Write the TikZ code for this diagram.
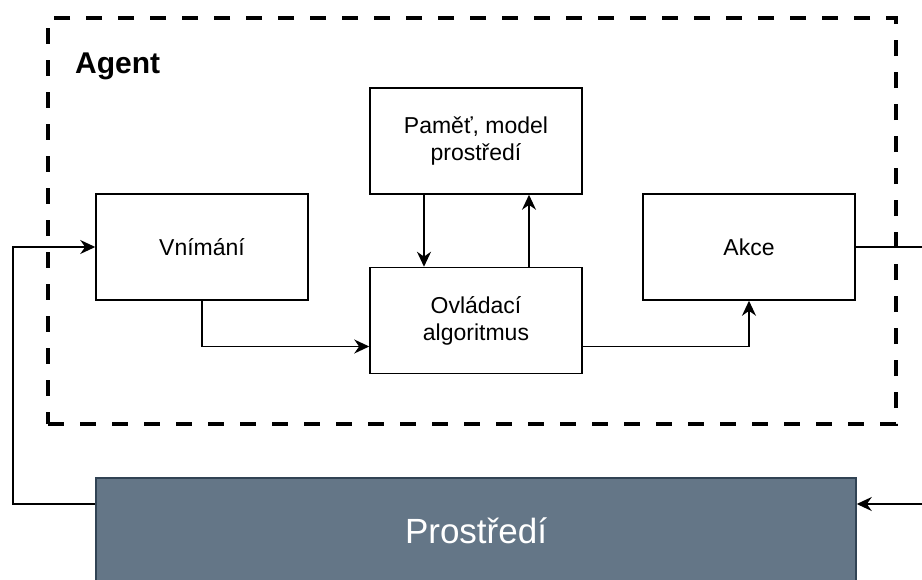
\documentclass[tikz,border=0pt]{standalone}
\usepackage{fontspec}
\setmainfont{Liberation Sans}
\usepackage{tikz}
\usetikzlibrary{arrows.meta,positioning}

\definecolor{envfill}{HTML}{647687}
\definecolor{envdraw}{HTML}{314354}

\tikzset{
  block/.style={draw, line width=1.5pt, minimum width=212pt, minimum height=106pt,
    align=center, font=\fontsize{23}{27}\selectfont, inner sep=0pt},
  agentbox/.style={draw, line width=4pt, dash pattern=on 16pt off 16pt,
    minimum width=848pt, minimum height=406pt, inner sep=0pt},
  envbox/.style={draw=envdraw, fill=envfill, line width=1.5pt, minimum width=760pt,
    minimum height=106pt, text=white, font=\fontsize{35}{40}\selectfont, inner sep=0pt},
  link/.style={line width=1.5pt, -{Stealth[length=15pt,width=14pt]}},
  plain/.style={line width=1.5pt}
}

\begin{document}
\begin{tikzpicture}[x=1pt,y=-1pt]
\useasboundingbox (0,0) rectangle (922,579);

% agent
\node[agentbox] (agent) at (472,221) {};
\node[anchor=base west, inner sep=0pt, font=\bfseries\fontsize{30}{34}\selectfont] (agentlbl) at (75,73) {Agent};

% blocks
\node[block] (pamet) at (476,141) {Paměť, model\\prostředí};
\node[block, below=72pt of pamet] (ovladani) {Ovládací\\algoritmus};
\node[block] (vnimani) at (202,247) {Vnímání};
\node[block] (akce) at (749,247) {Akce};

% environment
\node[envbox] (prostredi) at (476,531) {Prostředí};

\coordinate (outR) at (922,247);
\coordinate (inR) at (922,504);
\coordinate (loopL) at (13,400);

% connectors
\draw[link] (vnimani.south) |- ([yshift=-26pt]ovladani.west);
\draw[link] ([xshift=-52pt]pamet.south) -- ([xshift=-52pt]ovladani.north);
\draw[link] ([xshift=53pt]ovladani.north) -- ([xshift=53pt]pamet.south);
\draw[link] ([yshift=-26pt]ovladani.east) -| (akce.south);
\draw[plain] (akce.east) -- (outR);
\draw[link] (inR) -- ([yshift=27pt]prostredi.east);
\draw[link] ([yshift=27pt]prostredi.west) -| (loopL) |- (vnimani.west);

\end{tikzpicture}
\end{document}
